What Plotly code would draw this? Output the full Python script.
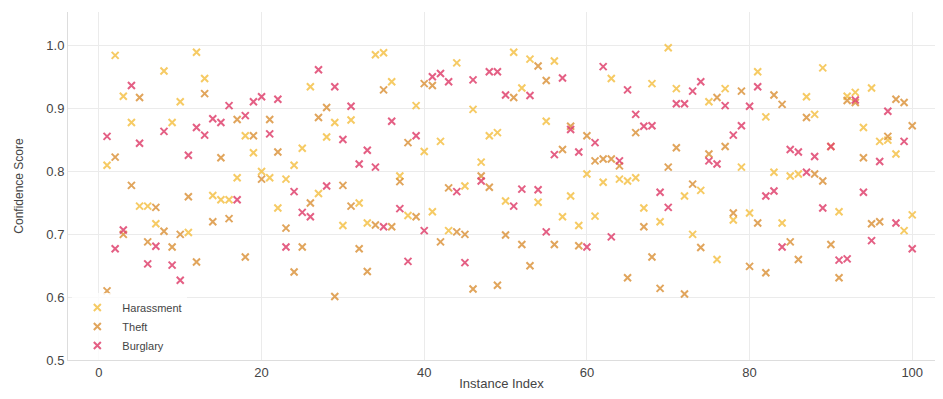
import plotly.graph_objects as go

instance_index = list(range(1, 101))

harassment = [
    0.81, 0.985, 0.92, 0.878, 0.745, 0.745, 0.717, 0.96, 0.878, 0.911,
    0.703, 0.99, 0.948, 0.762, 0.755, 0.755, 0.79, 0.857, 0.83, 0.80,
    0.79, 0.742, 0.788, 0.81, 0.837, 0.935, 0.765, 0.855, 0.878, 0.714,
    0.882, 0.75, 0.718, 0.986, 0.989, 0.943, 0.793, 0.73, 0.905, 0.832,
    0.736, 0.848, 0.706, 0.973, 0.777, 0.899, 0.815, 0.857, 0.862, 0.753,
    0.99, 0.933, 0.979, 0.751, 0.88, 0.976, 0.728, 0.761, 0.714, 0.796,
    0.729, 0.783, 0.948, 0.788, 0.785, 0.79, 0.742, 0.94, 0.72, 0.997,
    0.932, 0.761, 0.70, 0.77, 0.911, 0.66, 0.932, 0.723, 0.807, 0.734,
    0.959, 0.887, 0.799, 0.718, 0.793, 0.796, 0.919, 0.891, 0.965, 0.84,
    0.736, 0.92, 0.926, 0.87, 0.933, 0.848, 0.85, 0.828, 0.706, 0.731,
]

theft = [
    0.61, 0.823, 0.70, 0.778, 0.918, 0.688, 0.743, 0.705, 0.68, 0.70,
    0.76, 0.656, 0.924, 0.72, 0.822, 0.725, 0.883, 0.664, 0.857, 0.788,
    0.883, 0.831, 0.71, 0.64, 0.68, 0.75, 0.886, 0.902, 0.601, 0.778,
    0.745, 0.677, 0.641, 0.715, 0.93, 0.712, 0.784, 0.846, 0.728, 0.94,
    0.937, 0.688, 0.774, 0.704, 0.70, 0.613, 0.793, 0.775, 0.619, 0.699,
    0.918, 0.684, 0.65, 0.968, 0.945, 0.684, 0.835, 0.872, 0.682, 0.857,
    0.817, 0.82, 0.82, 0.809, 0.631, 0.862, 0.712, 0.664, 0.614, 0.807,
    0.838, 0.605, 0.78, 0.679, 0.828, 0.918, 0.84, 0.734, 0.928, 0.649,
    0.718, 0.639, 0.922, 0.907, 0.688, 0.66, 0.886, 0.796, 0.785, 0.684,
    0.631, 0.913, 0.91, 0.822, 0.717, 0.72, 0.856, 0.915, 0.91, 0.873,
]

burglary = [
    0.856, 0.677, 0.707, 0.937, 0.845, 0.653, 0.681, 0.864, 0.651, 0.627,
    0.826, 0.87, 0.858, 0.884, 0.878, 0.905, 0.755, 0.889, 0.911, 0.919,
    0.86, 0.915, 0.68, 0.768, 0.735, 0.728, 0.962, 0.777, 0.935, 0.851,
    0.904, 0.812, 0.834, 0.807, 0.712, 0.88, 0.741, 0.657, 0.857, 0.706,
    0.951, 0.956, 0.943, 0.768, 0.655, 0.946, 0.785, 0.959, 0.959, 0.922,
    0.745, 0.772, 0.921, 0.771, 0.704, 0.827, 0.949, 0.867, 0.831, 0.68,
    0.846, 0.967, 0.696, 0.817, 0.93, 0.891, 0.872, 0.873, 0.767, 0.743,
    0.908, 0.908, 0.928, 0.943, 0.817, 0.812, 0.905, 0.858, 0.873, 0.904,
    0.935, 0.761, 0.769, 0.68, 0.835, 0.831, 0.799, 0.824, 0.742, 0.84,
    0.659, 0.661, 0.914, 0.767, 0.69, 0.816, 0.896, 0.718, 0.848, 0.677,
]

series = [
    ("Harassment", harassment, "#f5c24a"),
    ("Theft", theft, "#dc9640"),
    ("Burglary", burglary, "#e0446f"),
]

fig = go.Figure()
for name, vals, color in series:
    fig.add_trace(go.Scatter(
        x=instance_index, y=vals, mode="markers", name=name,
        marker=dict(symbol="x-thin", size=7, color=color,
                    line=dict(width=2, color=color), opacity=0.85),
    ))

font_family = "Liberation Sans, Arial, sans-serif"
fig.update_layout(
    width=927, height=383,
    margin=dict(l=60, r=0, t=4, b=29),
    paper_bgcolor="white", plot_bgcolor="white",
    font=dict(family=font_family, size=13, color="#444444"),
    showlegend=True,
    legend=dict(x=0.005, y=0.0, xanchor="left", yanchor="bottom",
                bgcolor="rgba(255,255,255,0.8)", font=dict(size=11, color="#444444"),
                itemwidth=40, tracegroupgap=0),
    xaxis=dict(range=[-3.8, 102.8], tickvals=[0, 20, 40, 60, 80, 100],
               showgrid=True, gridcolor="#ebebeb", gridwidth=1, zeroline=False,
               showline=True, linecolor="#dddddd", linewidth=1, ticks="",
               title=dict(text="Instance Index", font=dict(size=13), standoff=2),
               tickfont=dict(size=13)),
    yaxis=dict(range=[0.5, 1.054], tickvals=[0.5, 0.6, 0.7, 0.8, 0.9, 1.0],
               ticktext=["0.5", "0.6", "0.7", "0.8", "0.9", "1.0"],
               showgrid=True, gridcolor="#ebebeb", gridwidth=1, zeroline=False,
               showline=True, linecolor="#dddddd", linewidth=1, ticks="",
               title=dict(text="Confidence Score", font=dict(size=12), standoff=20),
               tickfont=dict(size=13)),
)

fig.write_html("out.html")
